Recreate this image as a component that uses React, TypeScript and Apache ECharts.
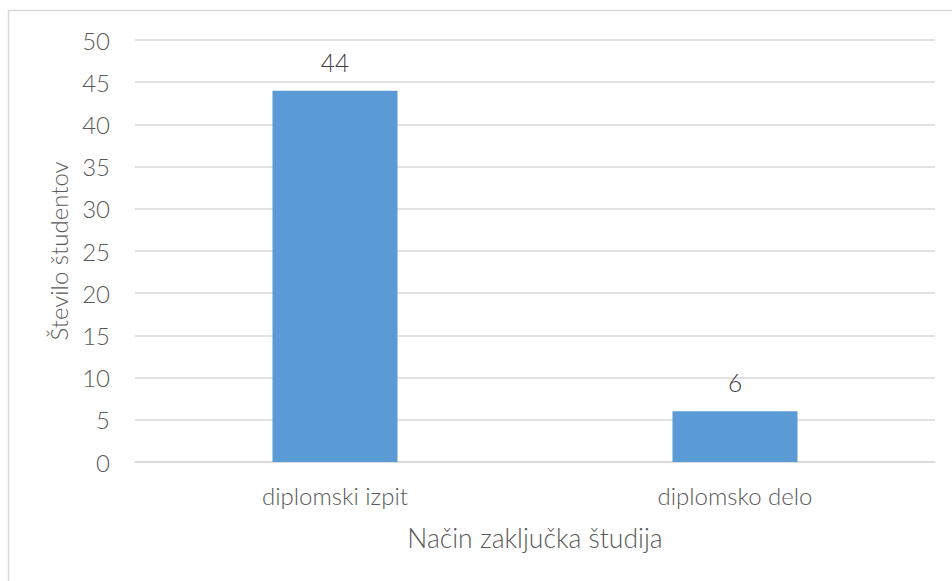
import React, { useEffect, useRef } from "react";
import * as echarts from "echarts";

const categories = ["diplomski izpit", "diplomsko delo"];
const values = [44, 6];
const xAxisTitle = "Način zaključka študija";
const yAxisTitle = "Število študentov";

const FONT = "Lato, 'Noto Sans', sans-serif";
const W = 300;

export default function App() {
  const ref = useRef<HTMLDivElement>(null);
  useEffect(() => {
    if (!ref.current) return;
    const chart = echarts.init(ref.current, undefined, { renderer: "svg" });
    chart.setOption({
      animation: false,
      backgroundColor: "#ffffff",
      textStyle: { fontFamily: FONT },
      graphic: [
        {
          type: "rect",
          shape: { x: 8.5, y: 10.5, width: 1000, height: 700 },
          style: { fill: "none", stroke: "#d9d9d9", lineWidth: 1.5 },
          silent: true,
          z: -10,
        },
      ],
      grid: { left: 135, right: 17, top: 40, bottom: 119 },
      xAxis: {
        type: "category",
        data: categories,
        axisLine: { show: true, lineStyle: { color: "#d9d9d9", width: 1.5 } },
        axisTick: { show: false },
        axisLabel: { color: "#595959", fontSize: 24, margin: 21, fontFamily: FONT, fontWeight: W },
        name: xAxisTitle,
        nameLocation: "middle",
        nameGap: 62,
        nameTextStyle: { color: "#595959", fontSize: 26.5, fontFamily: FONT, fontWeight: W },
      },
      yAxis: {
        type: "value",
        min: 0,
        max: 50,
        interval: 5,
        axisLine: { show: false },
        axisTick: { show: false },
        axisLabel: { color: "#595959", fontSize: 24, margin: 25, fontFamily: FONT, fontWeight: W },
        splitLine: { lineStyle: { color: "#d9d9d9", width: 1.5 } },
        name: yAxisTitle,
        nameLocation: "middle",
        nameGap: 65,
        nameRotate: 90,
        nameTextStyle: { color: "#595959", fontSize: 24, fontFamily: FONT, fontWeight: W },
      },
      series: [
        {
          type: "bar",
          data: values,
          barWidth: 125,
          itemStyle: { color: "#5b9bd5" },
          label: {
            show: true,
            position: "top",
            distance: 16,
            color: "#404040",
            fontSize: 24.5,
            fontFamily: FONT,
            fontWeight: W,
          },
        },
      ],
    });
    return () => chart.dispose();
  }, []);
  return (
    <div
      ref={ref}
      style={{ position: "fixed", left: 0, top: 0, width: 952, height: 581 }}
    />
  );
}
